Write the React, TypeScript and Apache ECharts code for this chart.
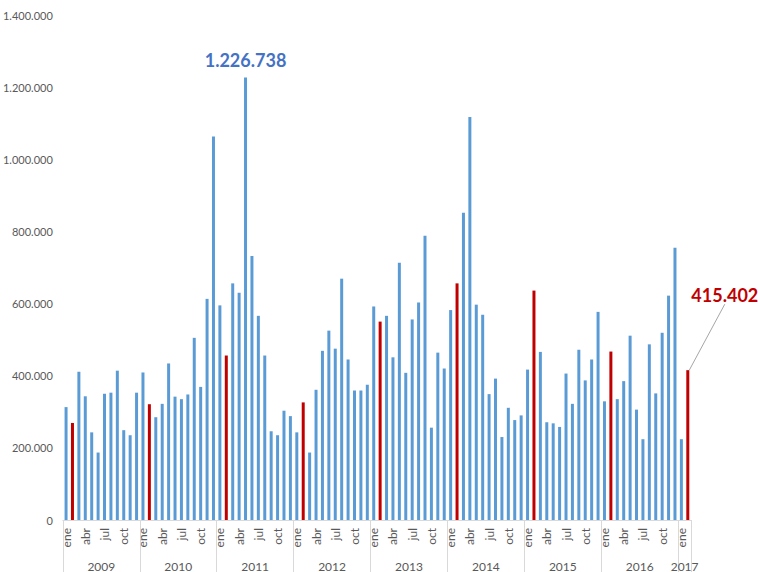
import React, { useEffect, useRef } from "react";
import * as echarts from "echarts";

const monthNames = ["ene", "feb", "mar", "abr", "may", "jun", "jul", "ago", "sep", "oct", "nov", "dic"];
const years = ["2009", "2010", "2011", "2012", "2013", "2014", "2015", "2016", "2017"];
const yTicks = [0, 200000, 400000, 600000, 800000, 1000000, 1200000, 1400000];

const v2009 = [313000, 269000, 411000, 343000, 243000, 187000, 350000, 353000, 414000, 249000, 235000, 353000];
const v2010 = [409000, 321000, 285000, 322000, 434000, 342000, 335000, 348000, 505000, 369000, 613000, 1063000];
const v2011 = [595000, 456000, 656000, 630000, 1226738, 732000, 566000, 456000, 246000, 235000, 303000, 288000];
const v2012 = [243000, 326000, 187000, 361000, 469000, 525000, 475000, 669000, 445000, 359000, 359000, 375000];
const v2013 = [592000, 550000, 566000, 451000, 713000, 408000, 556000, 603000, 788000, 256000, 464000, 420000];
const v2014 = [582000, 656000, 852000, 1117000, 597000, 569000, 349000, 392000, 230000, 311000, 277000, 290000];
const v2015 = [417000, 636000, 466000, 271000, 268000, 258000, 406000, 322000, 472000, 387000, 445000, 577000];
const v2016 = [329000, 467000, 335000, 385000, 511000, 306000, 224000, 487000, 351000, 519000, 622000, 755000];
const v2017 = [224000, 415402];

const valuesByYear = [v2009, v2010, v2011, v2012, v2013, v2014, v2015, v2016, v2017];

const BLUE = "#5B9BD5";
const RED = "#C00000";
const GRAY_TEXT = "#595959";
const GRAY_LINE = "#D9D9D9";
const FONT = "Lato, 'Liberation Sans', sans-serif";

const fmt = (v: number) => Math.round(v).toString().replace(/\B(?=(\d{3})+(?!\d))/g, ".");

export default function App() {
  const ref = useRef<HTMLDivElement>(null);

  useEffect(() => {
    if (!ref.current) return;
    const chart = echarts.init(ref.current, null, { renderer: "svg" });

    const cats: string[] = [];
    const monthIdx: number[] = [];
    const flat: number[] = [];
    const yearHalf: string[] = [];
    const boundaries = new Set<number>();
    const centers = new Set<number>();
    let start = 0;
    valuesByYear.forEach((arr, yi) => {
      boundaries.add(2 * start);
      centers.add(2 * start + arr.length);
      arr.forEach((v, mi) => {
        cats.push(years[yi] + "-" + monthNames[mi]);
        monthIdx.push(mi);
        flat.push(v);
      });
      start += arr.length;
    });
    boundaries.add(2 * start);
    for (let i = 0; i <= 2 * start; i++) {
      let label = "";
      let s = 0;
      valuesByYear.forEach((arr, yi) => {
        if (i === 2 * s + arr.length) label = years[yi];
        s += arr.length;
      });
      yearHalf.push(label + (label ? "" : "\u200b" + i));
    }

    const maxVal = Math.max(...flat);
    const maxIdx = flat.indexOf(maxVal);
    const lastIdx = flat.length - 1;

    const data = flat.map((v, i) => {
      const item: any = {
        value: v,
        itemStyle: { color: monthIdx[i] === 1 ? RED : BLUE },
      };
      if (i === maxIdx) {
        item.label = {
          show: true,
          position: "top",
          distance: 8,
          formatter: () => fmt(v),
          color: "#4472C4",
          fontSize: 18,
          fontWeight: "bold",
          fontFamily: FONT,
        };
      }
      if (i === lastIdx) {
        item.label = {
          show: true,
          position: "top",
          distance: 4,
          formatter: () => fmt(v),
          color: RED,
          fontSize: 18,
          fontWeight: "bold",
          fontFamily: FONT,
        };
        item.labelLine = { show: true, lineStyle: { color: "#A6A6A6", width: 1 } };
      }
      return item;
    });

    chart.setOption({
      animation: false,
      backgroundColor: "#ffffff",
      grid: { left: 62, right: 67, top: 15, bottom: 51, containLabel: false },
      xAxis: [
        {
          type: "category",
          data: cats,
          boundaryGap: true,
          axisLine: { show: true, lineStyle: { color: GRAY_LINE } },
          axisTick: { show: false },
          axisLabel: {
            interval: (i: number) => monthIdx[i] % 3 === 0,
            rotate: 90,
            margin: 8,
            color: GRAY_TEXT,
            fontSize: 12,
            fontFamily: FONT,
            formatter: (val: string) => val.split("-")[1],
          },
          splitLine: { show: false },
        },
        {
          type: "category",
          data: yearHalf,
          boundaryGap: false,
          position: "bottom",
          offset: 0,
          axisLine: { show: false },
          axisTick: {
            show: true,
            interval: (i: number) => boundaries.has(i),
            length: 52,
            lineStyle: { color: GRAY_LINE },
          },
          axisLabel: {
            interval: (i: number) => centers.has(i),
            margin: 40,
            color: GRAY_TEXT,
            fontSize: 12,
            fontFamily: FONT,
            formatter: (val: string) => (val.indexOf("\u200b") >= 0 ? "" : val),
          },
          splitLine: { show: false },
        },
      ],
      yAxis: {
        type: "value",
        min: yTicks[0],
        max: yTicks[yTicks.length - 1],
        interval: yTicks[1] - yTicks[0],
        axisLine: { show: false },
        axisTick: { show: false },
        splitLine: { show: false },
        axisLabel: {
          margin: 10,
          color: GRAY_TEXT,
          fontSize: 11,
          fontFamily: FONT,
          formatter: (v: number) => fmt(v),
        },
      },
      series: [
        {
          type: "bar",
          xAxisIndex: 0,
          data,
          barWidth: 3,
          labelLayout: (params: any) =>
            params.dataIndex === lastIdx ? { dx: 37, dy: -62 } : {},
        },
      ],
    });

    return () => chart.dispose();
  }, []);

  return (
    <div
      ref={ref}
      style={{ position: "absolute", left: 0, top: 0, width: 758, height: 572 }}
    />
  );
}
